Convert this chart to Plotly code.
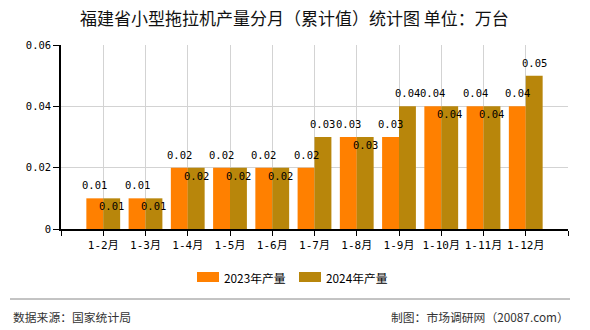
import plotly.graph_objects as go

categories = ["1-2月", "1-3月", "1-4月", "1-5月", "1-6月", "1-7月",
              "1-8月", "1-9月", "1-10月", "1-11月", "1-12月"]
values_2023 = [0.01, 0.01, 0.02, 0.02, 0.02, 0.02, 0.03, 0.03, 0.04, 0.04, 0.04]
values_2024 = [0.01, 0.01, 0.02, 0.02, 0.02, 0.03, 0.03, 0.04, 0.04, 0.04, 0.05]
series_names = ["2023年产量", "2024年产量"]
y_ticks = [0, 0.02, 0.04, 0.06]
y_tick_labels = ["0", "0.02", "0.04", "0.06"]

title_text = "福建省小型拖拉机产量分月（累计值）统计图 单位：万台"
source_text = "数据来源：国家统计局"
maker_text = "制图：市场调研网（20087.com）"

C1 = "#FF8000"
C2 = "#B8860B"
NUM_FONT = "DejaVu Sans Mono, Noto Sans CJK SC"
CJK_FONT = "Noto Sans CJK SC"

positions = list(range(1, len(categories) + 1))
BAR_W = 0.4

W, H = 590, 330
ML, MR, MT, MB = 61, 22, 45, 101
plot_h = H - MT - MB
plot_w = W - ML - MR


def py(pix_y):
    return (H - MB - pix_y) / plot_h


def px(pix_x):
    return (pix_x - ML) / plot_w


fig = go.Figure()
fig.add_trace(go.Bar(x=positions, y=values_2023, name=series_names[0],
                     marker=dict(color=C1, line=dict(width=0)), width=BAR_W,
                     offset=-BAR_W, showlegend=False))
fig.add_trace(go.Bar(x=positions, y=values_2024, name=series_names[1],
                     marker=dict(color=C2, line=dict(width=0)), width=BAR_W,
                     offset=0, showlegend=False))

annotations = []
for p, a, b in zip(positions, values_2023, values_2024):
    annotations.append(dict(x=p - BAR_W / 2, y=a, xref="x", yref="y", text=f"{a:.2f}",
                            showarrow=False, yshift=13,
                            font=dict(family=NUM_FONT, size=10.5, color="#000")))
    annotations.append(dict(x=p + BAR_W / 2, y=b, xref="x", yref="y", text=f"{b:.2f}",
                            showarrow=False, yshift=(-8 if a == b else 13),
                            font=dict(family=NUM_FONT, size=10.5, color="#000")))

annotations.append(dict(x=px(294), y=py(17.5), xref="paper", yref="paper", text=title_text,
                        showarrow=False, xanchor="center", yanchor="middle",
                        font=dict(family=CJK_FONT, size=17, color="#111")))

shapes = []
legend_items = [(197, C1, series_names[0]), (299, C2, series_names[1])]
for x0, col, name in legend_items:
    shapes.append(dict(type="rect", xref="paper", yref="paper",
                       x0=px(x0), x1=px(x0 + 22), y0=py(282), y1=py(272),
                       fillcolor=col, line=dict(width=0)))
    annotations.append(dict(x=px(x0 + 25), y=py(277), xref="paper", yref="paper",
                            text=name, showarrow=False, xanchor="left", yanchor="middle",
                            font=dict(family=CJK_FONT, size=11.8, color="#000")))

shapes.append(dict(type="line", xref="paper", yref="paper",
                   x0=px(10), x1=px(570), y0=py(299), y1=py(299),
                   line=dict(color="#888", width=1)))
annotations.append(dict(x=px(11), y=py(316), xref="paper", yref="paper", text=source_text,
                        showarrow=False, xanchor="left", yanchor="middle",
                        font=dict(family=CJK_FONT, size=11.8, color="#333")))
annotations.append(dict(x=px(571), y=py(316), xref="paper", yref="paper", text=maker_text,
                        showarrow=False, xanchor="right", yanchor="middle",
                        font=dict(family=CJK_FONT, size=11.8, color="#333")))

fig.update_layout(
    width=W, height=H,
    margin=dict(l=ML, r=MR, t=MT, b=MB),
    paper_bgcolor="white", plot_bgcolor="white",
    barmode="overlay",
    showlegend=False,
    xaxis=dict(range=[0, len(categories) + 1],
               tickvals=list(range(0, len(categories) + 2)),
               ticktext=[""] + categories + [""],
               showgrid=True, gridcolor="#d3d3d3", gridwidth=1,
               showline=True, linecolor="#000", linewidth=1.5,
               ticks="outside", ticklen=5, tickcolor="#000",
               tickfont=dict(family=NUM_FONT, size=11, color="#000"),
               zeroline=False, fixedrange=True),
    yaxis=dict(range=[0, 0.06], tickvals=y_ticks, ticktext=y_tick_labels,
               showgrid=True, gridcolor="#d3d3d3", gridwidth=1,
               showline=True, linecolor="#000", linewidth=1.5,
               ticks="outside", ticklen=6, tickcolor="#000",
               tickfont=dict(family=NUM_FONT, size=10.5, color="#000"),
               zeroline=False, fixedrange=True),
    font=dict(family=CJK_FONT),
    annotations=annotations,
    shapes=shapes,
)

fig.write_html("out.html", config={"displayModeBar": False})
